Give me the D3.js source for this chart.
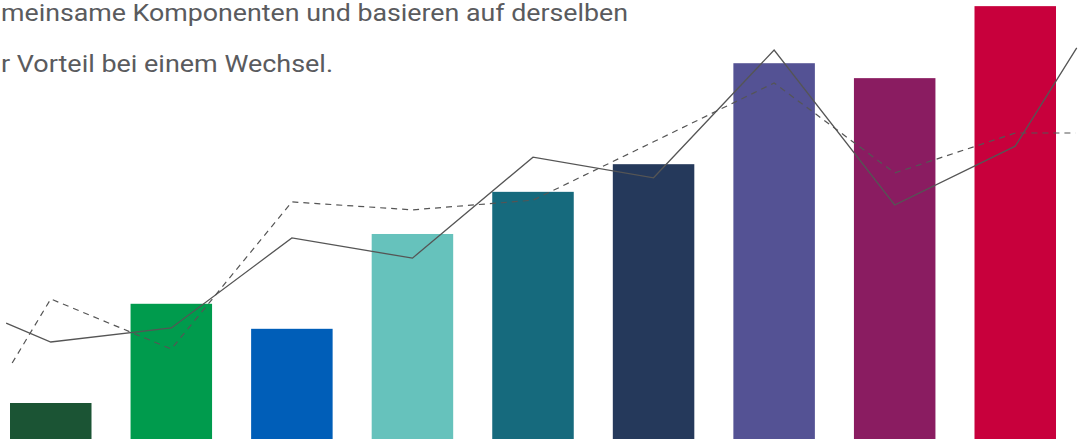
<!DOCTYPE html>
<html>
<head>
<meta charset="utf-8">
<script src="https://cdn.jsdelivr.net/npm/d3@7"></script>
<style>
  html, body { margin: 0; padding: 0; background: #ffffff; overflow: hidden; }
  svg { display: block; }
</style>
</head>
<body>
<svg id="chart" width="1083" height="439"></svg>
<script>
// ---- data ----
const categories = ["A", "B", "C", "D", "E", "F", "G", "H", "I"];
const barValues = [8.2, 30.8, 25.1, 46.7, 56.3, 62.6, 85.6, 82.2, 98.6];
const barColors = ["#1b5434", "#009b4d", "#005eb8", "#66c2bc", "#166a7d", "#25395b", "#545294", "#8a1c61", "#c8003c"];

// line series: [position (category index), value]
const solidLine = [[-0.37, 26.4], [0, 22.1], [1, 25.3], [2, 45.8], [3, 41.2], [4, 64.2], [5, 59.5], [6, 88.6], [7, 53.3], [8, 66.7], [8.51, 89.1]];
const dashedLine = [[-0.32, 17.3], [0, 31.9], [1, 20.5], [2, 54.0], [3, 52.2], [4, 54.4], [5, 67.7], [6, 81.1], [7, 60.6], [8, 69.7], [8.5, 69.7]];

const textLines = ["meinsame Komponenten und basieren auf derselben", "r Vorteil bei einem Wechsel."];

// ---- layout ----
const svg = d3.select("#chart");

const x = d3.scaleBand().domain(categories).range([10, 1056]).paddingInner(0.324).paddingOuter(0);
const y = d3.scaleLinear().domain([0, 100]).range([439, 0]);
const xi = d3.scaleLinear()
  .domain([0, categories.length - 1])
  .range([x(categories[0]) + x.bandwidth() / 2, x(categories[categories.length - 1]) + x.bandwidth() / 2]);

// bars
svg.append("g").selectAll("rect")
  .data(barValues)
  .join("rect")
  .attr("x", (d, i) => x(categories[i]))
  .attr("y", d => y(d))
  .attr("width", x.bandwidth())
  .attr("height", d => y(0) - y(d))
  .attr("fill", (d, i) => barColors[i]);

// lines
const line = d3.line().x(d => xi(d[0])).y(d => y(d[1]));
svg.append("path")
  .datum(dashedLine)
  .attr("d", line)
  .attr("fill", "none")
  .attr("stroke", "#555555")
  .attr("stroke-width", 1.2)
  .attr("stroke-dasharray", "6,5");
svg.append("path")
  .datum(solidLine)
  .attr("d", line)
  .attr("fill", "none")
  .attr("stroke", "#555555")
  .attr("stroke-width", 1.3);

// text
const tl = [[21, 628], [72, 333]];
svg.append("g").selectAll("text")
  .data(textLines)
  .join("text")
  .attr("x", 1)
  .attr("y", (d, i) => tl[i][0])
  .attr("textLength", (d, i) => tl[i][1] - 1)
  .attr("lengthAdjust", "spacingAndGlyphs")
  .attr("font-family", "Roboto, 'Noto Sans', sans-serif")
  .attr("font-weight", 400)
  .attr("font-size", 24)
  .attr("fill", "#5a5b5e")
  .text(d => d);
</script>
</body>
</html>
